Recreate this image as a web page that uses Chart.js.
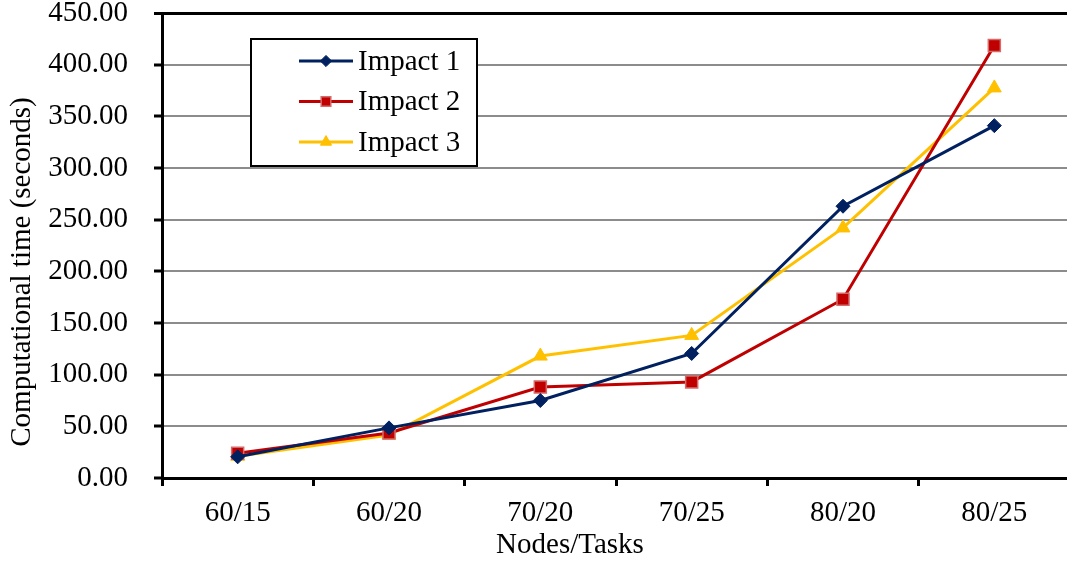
<!DOCTYPE html>
<html>
<head>
<meta charset="utf-8">
<script src="https://cdn.jsdelivr.net/npm/chart.js@4"></script>
<style>
  html, body { margin: 0; padding: 0; background: #fff; overflow: hidden; }
  #wrap { width: 1067px; height: 566px; overflow: hidden; }
</style>
</head>
<body>
<div id="wrap"><canvas id="chart1" width="1080" height="566"></canvas></div>
<script>
// values
const categories = ['60/15', '60/20', '70/20', '70/25', '80/20', '80/25'];
const impact1 = [20.5, 48.5, 75, 120.5, 263, 341];
const impact2 = [24, 43.5, 88, 93, 173, 418.5];
const impact3 = [21, 41.5, 118, 138, 242, 377.5];
const yTicks = [0, 50, 100, 150, 200, 250, 300, 350, 400, 450];
const yTitle = 'Computational time (seconds)';
const xTitle = 'Nodes/Tasks';

const serif = 'Liberation Serif';
const fontPx = 29;

// legend box and the two axis titles (both sit off-centre in the original)
const extras = {
    id: 'extras',
    afterDraw(chart) {
        const c = chart.ctx;
        const x = 251, y = 39, w = 226, h = 127;
        const rows = [61, 101.5, 142];
        c.save();
        c.fillStyle = '#fff';
        c.fillRect(x, y, w, h);
        c.strokeStyle = '#000';
        c.lineWidth = 2;
        c.strokeRect(x, y, w, h);
        c.font = fontPx + 'px "' + serif + '"';
        chart.data.datasets.forEach(function (ds, i) {
            const ry = rows[i];
            c.strokeStyle = ds.borderColor;
            c.lineWidth = ds.borderWidth;
            c.beginPath();
            c.moveTo(299, ry);
            c.lineTo(353, ry);
            c.stroke();
            c.fillStyle = ds.pointBackgroundColor;
            c.strokeStyle = ds.pointBorderColor;
            c.lineWidth = ds.pointBorderWidth;
            Chart.helpers.drawPoint(c, {
                pointStyle: ds.pointStyle,
                radius: ds.pointRadius * 0.8,
                borderWidth: ds.pointBorderWidth
            }, 326, ry);
            c.fillStyle = '#000';
            c.textBaseline = 'middle';
            c.fillText(ds.label, 358, ry + 1);
        });

        c.fillStyle = '#000';
        c.textAlign = 'center';
        c.textBaseline = 'middle';
        c.fillText(xTitle, 570, 545);

        c.translate(22, 272);
        c.rotate(-Math.PI / 2);
        c.fillText(yTitle, 0, 0);
        c.restore();
    }
};

const ctx = document.getElementById('chart1');

new Chart(ctx, {
    type: 'line',
    data: {
        labels: categories,
        datasets: [{
            label: 'Impact 1',
            data: impact1,
            borderColor: '#002060',
            borderWidth: 3,
            pointStyle: 'rectRot',
            pointRadius: 7,
            pointBackgroundColor: '#002060',
            pointBorderColor: '#002060',
            pointBorderWidth: 1,
            tension: 0
        }, {
            label: 'Impact 2',
            data: impact2,
            borderColor: '#c00000',
            borderWidth: 3,
            pointStyle: 'rect',
            pointRadius: 8.5,
            pointBackgroundColor: '#c00000',
            pointBorderColor: '#d46a6a',
            pointBorderWidth: 1.5,
            tension: 0
        }, {
            label: 'Impact 3',
            data: impact3,
            borderColor: '#ffc000',
            borderWidth: 3,
            pointStyle: 'triangle',
            pointRadius: 8,
            pointBackgroundColor: '#ffc000',
            pointBorderColor: '#ffc000',
            pointBorderWidth: 1,
            tension: 0
        }]
    },
    options: {
        responsive: false,
        animation: false,
        layout: { padding: { top: 13, right: 6, bottom: 0, left: 0 } },
        plugins: {
            legend: { display: false },
            tooltip: { enabled: false }
        },
        scales: {
            x: {
                offset: true,
                afterFit: function (scale) {
                    scale.height = 88;
                    scale.paddingLeft = 0;
                    scale.paddingRight = 0;
                },
                grid: {
                    offset: true,
                    drawOnChartArea: false,
                    tickLength: 8,
                    color: '#000',
                    lineWidth: 3
                },
                border: { color: '#000', width: 3 },
                ticks: {
                    color: '#000',
                    padding: 10,
                    maxRotation: 0,
                    font: { family: serif, size: fontPx }
                }
            },
            y: {
                min: 0,
                max: 450,
                afterFit: function (scale) {
                    scale.width = 162;
                    scale.paddingTop = 0;
                    scale.paddingBottom = 0;
                },
                afterBuildTicks: function (scale) {
                    scale.ticks = yTicks.map(function (v) { return { value: v }; });
                },
                grid: {
                    tickLength: 8,
                    color: function (c) { return c.tick && c.tick.value === 450 ? '#000' : '#8c8c8c'; },
                    lineWidth: function (c) { return c.tick && c.tick.value === 450 ? 3 : 2; },
                    tickColor: '#000',
                    tickWidth: 3
                },
                border: { color: '#000', width: 3 },
                ticks: {
                    color: '#000',
                    padding: 26,
                    font: { family: serif, size: fontPx },
                    callback: function (v) { return Number(v).toFixed(2); }
                }
            }
        }
    },
    plugins: [extras]
});
</script>
</body>
</html>
